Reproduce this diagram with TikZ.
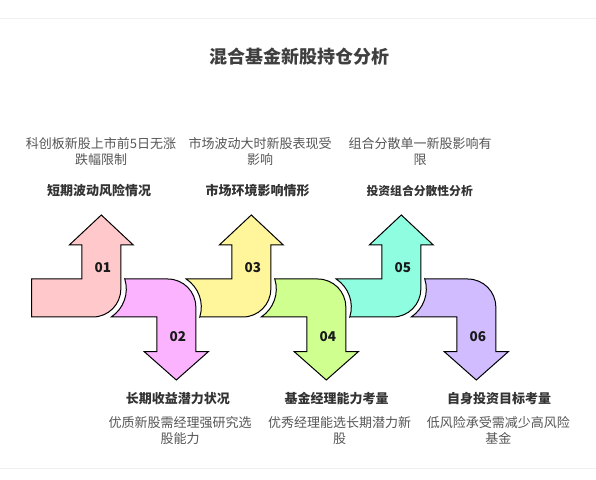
\documentclass[tikz,border=0pt]{standalone}
\usepackage{fontspec}
\setmainfont{Noto Sans CJK SC}
\usepackage{tikz}

\definecolor{cPink}{HTML}{FFC9CC}
\definecolor{cMagenta}{HTML}{FBB3FF}
\definecolor{cYellow}{HTML}{FFF59A}
\definecolor{cGreen}{HTML}{CFFF8F}
\definecolor{cAqua}{HTML}{8FFDE0}
\definecolor{cLavender}{HTML}{D0BCFF}
\definecolor{titlegray}{HTML}{3F3F3F}
\definecolor{headgray}{HTML}{333333}
\definecolor{descgray}{HTML}{555555}

\begin{document}
\begin{tikzpicture}[x=1pt,y=1pt,
  arrowpart/.style={draw=black, line width=1pt, line join=miter},
  numlabel/.style={font=\fontsize{13.5}{15}\selectfont\bfseries, text=black!90},
  headlabel/.style={font=\fontsize{13}{15}\selectfont\bfseries, text=headgray, inner sep=0pt},
  desclabel/.style={font=\fontsize{13}{16.5}\selectfont, text=descgray, align=center, inner sep=0pt}]
\useasboundingbox (0,0) rectangle (596,479);
% frame lines:
\draw[black!6, line width=1pt] (0,460) -- (596,460);
\draw[black!6, line width=1pt] (0,11) -- (596,11);
\node[font=\fontsize{18}{20}\selectfont\bfseries, text=titlegray] (title) at (299,422) {混合基金新股持仓分析};
% up arrows:
\draw[arrowpart, fill=cPink] (31.7,162) -- (92.8,162) arc[start angle=-90, end angle=0, radius=28] -- (120.8,234) -- (133.3,234) -- (101.3,264) -- (69.3,234) -- (81.8,234) -- (81.8,200) -- (31.7,200) -- cycle;
\draw[arrowpart, fill=cYellow] (199.8,162) -- (242.8,162) arc[start angle=-90, end angle=0, radius=28] -- (270.8,234) -- (283.3,234) -- (251.3,264) -- (219.3,234) -- (231.8,234) -- (231.8,200) -- (186.2,200) arc[start angle=56.7, end angle=-17.4, radius=33.5] -- cycle;
\draw[arrowpart, fill=cAqua] (349.8,162) -- (392.8,162) arc[start angle=-90, end angle=0, radius=28] -- (420.8,234) -- (433.3,234) -- (401.3,264) -- (369.3,234) -- (381.8,234) -- (381.8,200) -- (336.2,200) arc[start angle=56.7, end angle=-17.4, radius=33.5] -- cycle;
% down arrows:
\draw[arrowpart, fill=cMagenta] (124.8,200) -- (167.8,200) arc[start angle=90, end angle=0, radius=28] -- (195.8,127.3) -- (208.3,127.3) -- (176.3,99) -- (144.3,127.3) -- (156.8,127.3) -- (156.8,162) -- (111.2,162) arc[start angle=-56.7, end angle=17.4, radius=33.5] -- cycle;
\draw[arrowpart, fill=cGreen] (274.8,200) -- (317.8,200) arc[start angle=90, end angle=0, radius=28] -- (345.8,127.3) -- (358.3,127.3) -- (326.3,99) -- (294.3,127.3) -- (306.8,127.3) -- (306.8,162) -- (261.2,162) arc[start angle=-56.7, end angle=17.4, radius=33.5] -- cycle;
\draw[arrowpart, fill=cLavender] (424.8,200) -- (467.8,200) arc[start angle=90, end angle=0, radius=28] -- (495.8,127.3) -- (508.3,127.3) -- (476.3,99) -- (444.3,127.3) -- (456.8,127.3) -- (456.8,162) -- (411.2,162) arc[start angle=-56.7, end angle=17.4, radius=33.5] -- cycle;
% step numbers:
\node[numlabel] (n01) at (102.8,211) {01};
\node[numlabel] (n02) at (177.8,142.5) {02};
\node[numlabel] (n03) at (252.8,211) {03};
\node[numlabel] (n04) at (327.8,142.5) {04};
\node[numlabel] (n05) at (402.8,211) {05};
\node[numlabel] (n06) at (477.8,142.5) {06};
% upper texts:
\node[headlabel] (h01) at (99,288) {短期波动风险情况};
\node[desclabel] (d01) at (101,327.4) {科创板新股上市前5日无涨\\跌幅限制};
\node[headlabel] (h03) at (257.5,288) {市场环境影响情形};
\node[desclabel] (d03) at (260,327.4) {市场波动大时新股表现受\\影响};
\node[headlabel, font=\fontsize{11.8}{14}\selectfont\bfseries] (h05) at (419.7,288) {投资组合分散性分析};
\node[desclabel] (d05) at (420,327.4) {组合分散单一新股影响有\\限};
% lower texts:
\node[headlabel] (h02) at (177.8,80.7) {长期收益潜力状况};
\node[desclabel] (d02) at (180,48.5) {优质新股需经理强研究选\\股能力};
\node[headlabel] (h04) at (336.7,80.7) {基金经理能力考量};
\node[desclabel] (d04) at (339.5,48.5) {优秀经理能选长期潜力新\\股};
\node[headlabel] (h06) at (499,80.7) {自身投资目标考量};
\node[desclabel] (d06) at (498.3,48.5) {低风险承受需减少高风险\\基金};
\end{tikzpicture}
\end{document}
